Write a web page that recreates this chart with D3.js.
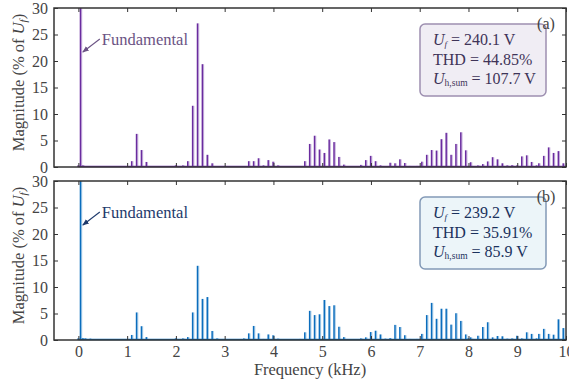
<!DOCTYPE html>
<html>
<head>
<meta charset="utf-8">
<script src="https://cdn.jsdelivr.net/npm/d3@7"></script>
<style>
  body { margin: 0; background: #fff; }
  svg text { font-family: "Liberation Serif", "DejaVu Serif", serif; }
</style>
</head>
<body>
<div id="chart"></div>
<script>
// harmonic order (n x 50 Hz) and magnitude in % of fundamental
const harmonicsA = [0, 1, 2, 22, 24, 26, 28, 40, 43, 45, 47, 49, 51, 53, 55,
  70, 72, 74, 76, 78, 80, 82, 93, 95, 97, 99, 101, 103, 105, 107, 109,
  116, 118, 120, 122, 124, 128, 130, 132, 134, 136, 139, 141, 143, 145, 147, 149, 151, 153, 155, 157, 159, 161,
  164, 166, 168, 170, 172, 174, 176, 178, 180, 182, 184, 186, 188, 189, 191, 193, 195, 197, 199];
const magnitudesA = [0.3, 100, 0.3, 1.1, 6.25, 3.2, 0.95, 0.3, 0.3, 1.1, 11.55, 27.1, 19.4, 2.3, 0.7,
  1.1, 1.1, 1.65, 0.3, 1.3, 1.0, 0.3, 1.1, 4.35, 5.9, 3.3, 2.65, 5.2, 4.7, 1.9, 0.45,
  0.4, 1.3, 2.1, 1.1, 0.3, 0.8, 0.7, 1.45, 0.75, 0.2, 0.2, 1.0, 2.3, 3.2, 3.1, 5.25, 6.45, 2.3, 4.35, 6.55, 3.15, 0.9,
  0.3, 0.55, 1.05, 1.85, 1.45, 0.7, 0.3, 0.35, 0.3, 2.0, 2.2, 0.95, 0.3, 0.7, 2.1, 3.7, 2.65, 3.0, 0.7];

const harmonicsB = [0, 1, 2, 3, 5, 22, 24, 26, 28, 40, 43, 45, 47, 49, 51, 53, 55, 57,
  68, 70, 72, 74, 76, 78, 80, 82, 91, 93, 95, 97, 99, 101, 103, 105, 107, 109,
  116, 118, 120, 122, 124, 126, 128, 130, 132, 134, 136, 139, 141, 143, 145, 147, 149, 151, 153, 155, 157, 159, 160, 161, 162,
  164, 166, 168, 170, 172, 174, 176, 178, 180, 182, 184, 186, 188, 189, 191, 193, 195, 197, 199];
const magnitudesB = [0.3, 100, 0.35, 0.3, 0.25, 0.95, 5.2, 2.6, 0.55, 0.3, 0.3, 0.55, 5.2, 14.0, 7.75, 8.1, 1.7, 0.3,
  0.3, 1.25, 2.65, 1.25, 0.2, 1.05, 0.9, 0.25, 0.2, 1.45, 5.5, 4.7, 4.85, 7.55, 6.4, 6.55, 2.5, 0.55,
  0.3, 0.5, 1.5, 1.75, 1.05, 0.25, 0.35, 2.85, 2.45, 0.9, 0.2, 0.2, 1.15, 4.7, 7.0, 4.0, 5.9, 5.9, 2.9, 5.05, 3.6, 1.05, 0.3, 0.5, 0.2,
  0.8, 2.45, 3.35, 0.5, 0.75, 0.7, 0.25, 0.3, 0.8, 0.3, 1.45, 1.15, 0.3, 1.15, 2.1, 1.15, 1.0, 3.9, 2.25];

const xTicks = [0, 1, 2, 3, 4, 5, 6, 7, 8, 9, 10];
const yTicks = [0, 5, 10, 15, 20, 25, 30];
const fundamentalHz = 50;

const panels = [
  { id: 'a', harmonics: harmonicsA, mags: magnitudesA, top: 8,
    color: '#6a2c9f', light: '#c9b3de', labelColor: '#6b5384',
    boxFill: '#efebf3', boxStroke: '#9d8fb0', boxText: '#3f3458',
    uf: '240.1 V', thd: '44.85%', uh: '107.7 V' },
  { id: 'b', harmonics: harmonicsB, mags: magnitudesB, top: 181,
    color: '#0b6dbd', light: '#a8cde9', labelColor: '#1e3a6c',
    boxFill: '#eaf4f9', boxStroke: '#8299b6', boxText: '#1b325d',
    uf: '239.2 V', thd: '35.91%', uh: '85.9 V' }
];

const W = 569, H = 382;
const left = 54, right = 566, ph = 159;
const fs = 16;

const svg = d3.select('#chart').append('svg')
  .attr('width', W).attr('height', H);

const defs = svg.append('defs');

const x = d3.scaleLinear().domain([-0.5, 10]).range([left, right]);

panels.forEach((p, i) => {
  const y = d3.scaleLinear().domain([0, 30]).range([p.top + ph, p.top]);
  const g = svg.append('g');

  defs.append('clipPath').attr('id', 'clip' + p.id)
    .append('rect').attr('x', left).attr('y', p.top).attr('width', right - left).attr('height', ph);

  const data = p.harmonics.map((n, k) => ({ f: n * fundamentalHz / 1000, v: p.mags[k] }));

  // bars (dark core + light right edge)
  const bars = g.append('g').attr('clip-path', `url(#clip${p.id})`);
  bars.selectAll('rect.edge').data(data).join('rect')
    .attr('class', 'edge')
    .attr('x', d => x(d.f) + 0.3)
    .attr('width', 1.1)
    .attr('y', d => y(d.v))
    .attr('height', d => y(0) - y(d.v))
    .attr('fill', p.light);
  bars.selectAll('rect.bar').data(data).join('rect')
    .attr('class', 'bar')
    .attr('x', d => x(d.f) - 1.1)
    .attr('width', 1.5)
    .attr('y', d => y(d.v))
    .attr('height', d => y(0) - y(d.v))
    .attr('fill', p.color);

  // baseline band of the spectrum
  g.append('line')
    .attr('x1', x(0)).attr('x2', x(10))
    .attr('y1', y(0) - 0.5).attr('y2', y(0) - 0.5)
    .attr('stroke', p.color).attr('stroke-width', 1.5);

  // axes with inward ticks
  const axisColor = '#333';
  const yl = g.append('g').attr('transform', `translate(${left},0)`)
    .call(d3.axisLeft(y).tickValues(yTicks).tickSize(-4).tickPadding(6));
  const yr = g.append('g').attr('transform', `translate(${right},0)`)
    .call(d3.axisRight(y).tickValues(yTicks).tickSize(-4).tickFormat(''));
  const xt = g.append('g').attr('transform', `translate(0,${p.top})`)
    .call(d3.axisTop(x).tickValues(xTicks).tickSize(-4).tickFormat(''));
  const xb = g.append('g').attr('transform', `translate(0,${p.top + ph})`)
    .call(d3.axisBottom(x).tickValues(xTicks).tickSize(-4).tickPadding(6)
      .tickFormat(i === 1 ? d3.format('d') : ''));
  [yl, yr, xt, xb].forEach(a => {
    a.select('.domain').remove();
    a.selectAll('line').attr('stroke', axisColor);
    a.selectAll('text').attr('font-size', fs).attr('fill', '#444')
      .style('font-family', '"Liberation Serif", serif');
  });

  g.append('rect')
    .attr('x', left).attr('y', p.top).attr('width', right - left).attr('height', ph)
    .attr('fill', 'none').attr('stroke', axisColor).attr('stroke-width', 1.5);

  // y title
  const yt = g.append('text')
    .attr('transform', `translate(24,${p.top + ph / 2 - 5}) rotate(-90)`)
    .attr('text-anchor', 'middle')
    .attr('font-size', 16.5).attr('fill', '#444');
  yt.append('tspan').text('Magnitude (% of ');
  yt.append('tspan').attr('font-style', 'italic').text('U');
  yt.append('tspan').attr('font-size', 11).attr('font-style', 'italic').attr('dy', 3).text('f');
  yt.append('tspan').attr('dy', -3).text(')');

  // fundamental annotation
  const fx = x(fundamentalHz / 1000);
  defs.append('marker').attr('id', 'arrow' + p.id)
    .attr('viewBox', '0 0 10 10').attr('refX', 9).attr('refY', 5)
    .attr('markerWidth', 6).attr('markerHeight', 6).attr('orient', 'auto')
    .append('path').attr('d', 'M0,1 L10,5 L0,9 Z').attr('fill', p.labelColor);
  g.append('line')
    .attr('x1', fx + 19).attr('y1', p.top + 31)
    .attr('x2', fx + 2).attr('y2', p.top + 44)
    .attr('stroke', p.labelColor).attr('stroke-width', 1.1)
    .attr('marker-end', `url(#arrow${p.id})`);
  g.append('text')
    .attr('x', fx + 21).attr('y', p.top + 37)
    .attr('font-size', 16.5).attr('fill', p.labelColor)
    .text('Fundamental');

  // info box
  const bx = 420, by = p.top + 16;
  g.append('rect')
    .attr('x', bx).attr('y', by).attr('width', 126).attr('height', 72)
    .attr('rx', 5)
    .attr('fill', p.boxFill).attr('fill-opacity', 0.92)
    .attr('stroke', p.boxStroke).attr('stroke-width', 1.5);

  // panel letter
  g.append('text')
    .attr('x', 546).attr('y', p.top + 21)
    .attr('text-anchor', 'middle')
    .attr('font-size', fs).attr('fill', '#444')
    .text(`(${p.id})`);

  const tx = bx + 13;
  const l1 = g.append('text').attr('x', tx).attr('y', by + 21)
    .attr('font-size', fs).attr('fill', p.boxText);
  l1.append('tspan').attr('font-style', 'italic').text('U');
  l1.append('tspan').attr('font-size', 9).attr('font-style', 'italic').attr('dy', 2).text('f');
  l1.append('tspan').attr('dy', -2).text(' = ' + p.uf);

  g.append('text').attr('x', tx).attr('y', by + 41)
    .attr('font-size', fs).attr('fill', p.boxText)
    .text('THD = ' + p.thd);

  const l3 = g.append('text').attr('x', tx).attr('y', by + 60)
    .attr('font-size', fs).attr('fill', p.boxText);
  l3.append('tspan').attr('font-style', 'italic').text('U');
  l3.append('tspan').attr('font-size', 9.5).attr('dy', 2).text('h,sum');
  l3.append('tspan').attr('dy', -2).text(' = ' + p.uh);
});

// x title
svg.append('text')
  .attr('x', 310).attr('y', 375)
  .attr('text-anchor', 'middle')
  .attr('font-size', 16.5).attr('fill', '#444')
  .text('Frequency (kHz)');
</script>
</body>
</html>
